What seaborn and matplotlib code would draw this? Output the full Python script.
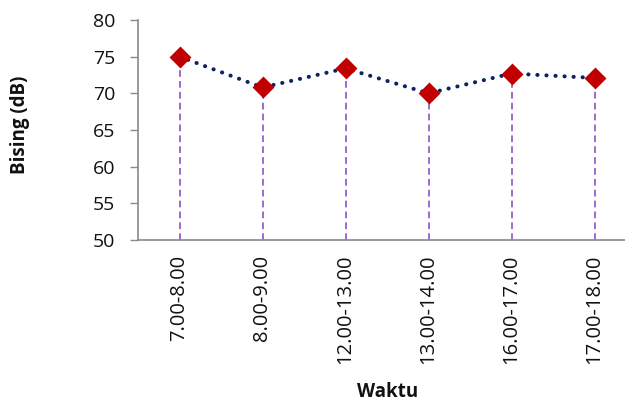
import matplotlib
matplotlib.use("Agg")
import matplotlib.pyplot as plt
import seaborn as sns
import pandas as pd

# Noise level measured for each time window
waktu = ["7.00-8.00", "8.00-9.00", "12.00-13.00", "13.00-14.00", "16.00-17.00", "17.00-18.00"]
bising = [75.0, 70.8, 73.4, 70.0, 72.7, 72.1]
y_ticks = [50, 55, 60, 65, 70, 75, 80]

df = pd.DataFrame({"pos": range(len(waktu)), "waktu": waktu, "bising": bising})

sns.set_style("white")
plt.rcParams["font.family"] = ["Open Sans", "DejaVu Sans"]

W, H = 625, 403
fig = plt.figure(figsize=(W / 100, H / 100), dpi=100)
left, right, top, bottom = 138, 625, 20, 240
ax = fig.add_axes([left / W, 1 - bottom / H, (right - left) / W, (bottom - top) / H])

axis_col = "#8a8a8a"
text_col = "#111111"

# Drop lines from each point down to the baseline
ax.vlines(df["pos"], 50, df["bising"], colors="#9966cc", linestyles=(0, (3.6, 2.2)),
          linewidth=1.35, zorder=1)

sns.lineplot(data=df, x="pos", y="bising", ax=ax, color="#0b2263", linewidth=2.9,
             linestyle=(0, (0.05, 2.2)), zorder=2)
ax.lines[-1].set_dash_capstyle("round")
sns.scatterplot(data=df, x="pos", y="bising", ax=ax, marker="D", s=125, color="#c00000",
                edgecolor="#c00000", linewidth=0, zorder=3)

ax.set_ylim(50, 80)
ax.set_yticks(y_ticks)
ax.set_xlim(-0.5, 5.5 - 11 / 83)
ax.set_xticks(df["pos"])
ax.set_xticklabels(waktu, rotation=90, fontsize=14.5, color=text_col)
ax.tick_params(axis="y", labelsize=14, labelcolor=text_col, length=5.8, width=1,
               color=axis_col, direction="out", left=True, pad=10.5)
ax.tick_params(axis="x", length=0, pad=10.5)

for s in ["top", "right"]:
    ax.spines[s].set_visible(False)
for s in ["left", "bottom"]:
    ax.spines[s].set_color(axis_col)
    ax.spines[s].set_linewidth(1.2)

ax.set_xlabel("Waktu", fontsize=13.5, fontweight="bold", color=text_col)
ax.set_ylabel("Bising (dB)", fontsize=13.5, fontweight="bold", color=text_col)
ax.xaxis.set_label_coords((388 - left) / (right - left), -(382 - bottom) / (bottom - top))
ax.yaxis.set_label_coords(-(left - 30) / (right - left), (bottom - 125) / (bottom - top))

fig.savefig("out.png", dpi=100)
